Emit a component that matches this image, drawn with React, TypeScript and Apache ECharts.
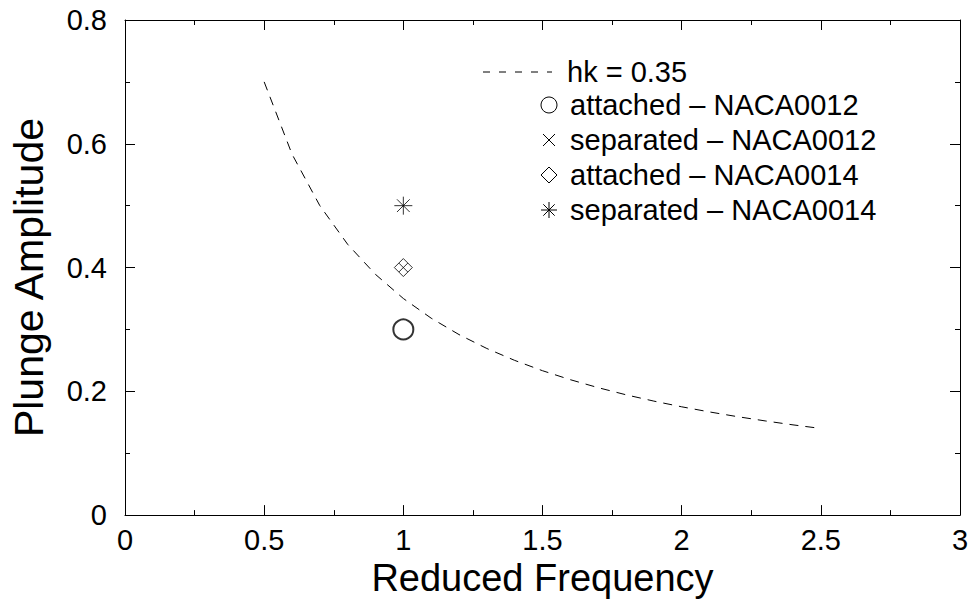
import React, { useEffect, useRef } from "react";
import * as echarts from "echarts";

const FONT = "'Liberation Sans', Arial, Helvetica, sans-serif";

// hk = 0.35 curve (reduced frequency k, plunge amplitude h)
const curveK = [0.5, 0.6, 0.7, 0.8, 0.9, 1.0, 1.1, 1.2, 1.3, 1.4, 1.5, 1.6, 1.7, 1.8, 1.9, 2.0, 2.1, 2.2, 2.3, 2.4, 2.5];
const curveH = [0.7, 0.5833, 0.5, 0.4375, 0.3889, 0.35, 0.3182, 0.2917, 0.2692, 0.25, 0.2333, 0.2188, 0.2059, 0.1944, 0.1842, 0.175, 0.1667, 0.1591, 0.1522, 0.1458, 0.14];

const attached0012: [number, number][] = [[1.0, 0.3]];
const separated0012: [number, number][] = [[1.0, 0.4]];
const attached0014: [number, number][] = [[1.0, 0.4]];
const separated0014: [number, number][] = [[1.0, 0.5]];

const legendLabels = [
  "hk = 0.35",
  "attached \u2013 NACA0012",
  "separated \u2013 NACA0012",
  "attached \u2013 NACA0014",
  "separated \u2013 NACA0014",
];

const xLabel = "Reduced Frequency";
const yLabel = "Plunge Amplitude";

const X_PATH = "path://M-1,-1L1,1M-1,1L1,-1";
const DIAMOND_PATH = "path://M0,-1L1,0L0,1L-1,0Z";
const STAR_PATH = "path://M0,-1L0,1M-1,0L1,0M-0.7071,-0.7071L0.7071,0.7071M-0.7071,0.7071L0.7071,-0.7071";

export default function App() {
  const ref = useRef<HTMLDivElement>(null);

  useEffect(() => {
    if (!ref.current) return;
    const chart = echarts.init(ref.current, undefined, { renderer: "svg" });

    const axisCommon = {
      type: "value" as const,
      axisLine: { show: true, onZero: false, lineStyle: { color: "#000", width: 1 } },
      axisTick: { show: true, inside: true, length: 10, lineStyle: { color: "#000", width: 1 } },
      minorTick: { show: true, splitNumber: 2, length: 5, lineStyle: { color: "#000", width: 1 } },
      splitLine: { show: false },
      minorSplitLine: { show: false },
    };

    const leg = legendLabels;
    const lx = 549;
    const ly = [72, 105, 140, 175, 210];
    const stroke = { stroke: "#000", lineWidth: 1, fill: "none" };

    const option: echarts.EChartsOption = {
      animation: false,
      backgroundColor: "#fff",
      textStyle: { fontFamily: FONT },
      grid: { left: 125, top: 20, right: 12, bottom: 85, containLabel: false },
      xAxis: [
        {
          ...axisCommon,
          position: "bottom",
          min: 0,
          max: 3,
          interval: 0.5,
          name: xLabel,
          nameLocation: "middle",
          nameGap: 40,
          nameTextStyle: { fontSize: 38, color: "#000", fontFamily: FONT },
          axisLabel: {
            show: true,
            margin: 10,
            fontSize: 29,
            color: "#000",
            fontFamily: FONT,
            formatter: (v: number) => String(v),
          },
        },
        {
          ...axisCommon,
          position: "top",
          min: 0,
          max: 3,
          interval: 0.5,
          axisLabel: { show: false },
        },
      ],
      yAxis: [
        {
          ...axisCommon,
          position: "left",
          min: 0,
          max: 0.8,
          interval: 0.2,
          name: yLabel,
          nameLocation: "middle",
          nameGap: 76,
          nameRotate: 90,
          nameTextStyle: { fontSize: 41, color: "#000", fontFamily: FONT, padding: [0, 20, 0, 0] },
          axisLabel: {
            show: true,
            margin: 18,
            fontSize: 29,
            color: "#000",
            fontFamily: FONT,
            formatter: (v: number) => String(v),
          },
        },
        {
          ...axisCommon,
          position: "right",
          min: 0,
          max: 0.8,
          interval: 0.2,
          axisLabel: { show: false },
        },
      ],
      series: [
        {
          name: leg[0],
          type: "line",
          data: curveK.map((k, i) => [k, curveH[i]]),
          showSymbol: false,
          symbol: "none",
          lineStyle: { color: "#000", width: 1, type: [9, 7] },
          z: 2,
        },
        {
          name: leg[1],
          type: "scatter",
          data: attached0012,
          symbol: "emptyCircle",
          symbolSize: 20,
          itemStyle: { color: "#000", borderColor: "#000", borderWidth: 1 },
          z: 3,
        },
        {
          name: leg[3],
          type: "scatter",
          data: attached0014,
          symbol: DIAMOND_PATH,
          symbolSize: 18,
          itemStyle: { color: "none", borderColor: "#000", borderWidth: 1 },
          z: 3,
        },
        {
          name: leg[2],
          type: "scatter",
          data: separated0012,
          symbol: X_PATH,
          symbolSize: 9,
          itemStyle: { color: "none", borderColor: "#000", borderWidth: 1 },
          z: 4,
        },
        {
          name: leg[4],
          type: "scatter",
          data: separated0014,
          symbol: STAR_PATH,
          symbolSize: 18,
          itemStyle: { color: "none", borderColor: "#000", borderWidth: 1 },
          z: 4,
        },
      ],
      graphic: [
        {
          type: "line",
          shape: { x1: 483, y1: ly[0], x2: 552, y2: ly[0] },
          style: { stroke: "#000", lineWidth: 1, lineDash: [7, 9] },
        },
        {
          type: "text",
          x: 567,
          y: ly[0],
          style: { text: leg[0], fontSize: 29, fontFamily: FONT, fill: "#000", verticalAlign: "middle" },
        },
        { type: "circle", shape: { cx: lx, cy: ly[1], r: 8 }, style: { ...stroke } },
        {
          type: "group",
          children: [
            { type: "line", shape: { x1: lx - 6, y1: ly[2] - 6, x2: lx + 6, y2: ly[2] + 6 }, style: { ...stroke } },
            { type: "line", shape: { x1: lx - 6, y1: ly[2] + 6, x2: lx + 6, y2: ly[2] - 6 }, style: { ...stroke } },
          ],
        },
        {
          type: "polygon",
          shape: { points: [[lx, ly[3] - 8], [lx + 8, ly[3]], [lx, ly[3] + 8], [lx - 8, ly[3]]] },
          style: { ...stroke },
        },
        {
          type: "group",
          children: [
            { type: "line", shape: { x1: lx, y1: ly[4] - 8, x2: lx, y2: ly[4] + 8 }, style: { ...stroke } },
            { type: "line", shape: { x1: lx - 8, y1: ly[4], x2: lx + 8, y2: ly[4] }, style: { ...stroke } },
            { type: "line", shape: { x1: lx - 5.7, y1: ly[4] - 5.7, x2: lx + 5.7, y2: ly[4] + 5.7 }, style: { ...stroke } },
            { type: "line", shape: { x1: lx - 5.7, y1: ly[4] + 5.7, x2: lx + 5.7, y2: ly[4] - 5.7 }, style: { ...stroke } },
          ],
        },
        ...[1, 2, 3, 4].map((i) => ({
          type: "text" as const,
          x: 570,
          y: ly[i],
          style: { text: leg[i], fontSize: 29, fontFamily: FONT, fill: "#000", verticalAlign: "middle" as const },
        })),
      ],
    };

    chart.setOption(option);
    return () => chart.dispose();
  }, []);

  return (
    <div
      ref={ref}
      style={{ position: "fixed", left: 0, top: 0, width: 972, height: 602, background: "#fff" }}
    />
  );
}
